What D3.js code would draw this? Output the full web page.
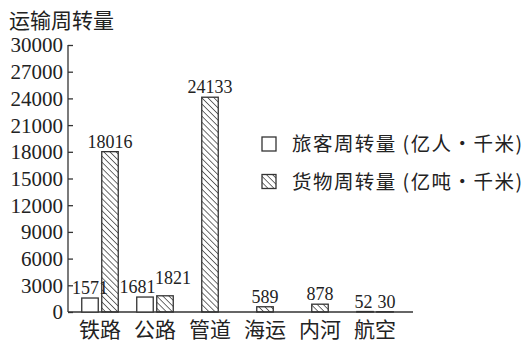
<!DOCTYPE html>
<html><head><meta charset="utf-8">
<script src="https://cdn.jsdelivr.net/npm/d3@7"></script>
<style>
html,body{margin:0;padding:0;background:#fff;}
svg{display:block;}
</style></head>
<body>
<svg id="c" width="526" height="342"></svg>
<script>
const categories = ["铁路","公路","管道","海运","内河","航空"];
const passenger = [1571, 1681, null, null, null, 52];
const freight = [18016, 1821, 24133, 589, 878, 30];
const yTicks = [0,3000,6000,9000,12000,15000,18000,21000,24000,27000,30000];
const title = "运输周转量";
const legendLabels = ["旅客周转量 (亿人·千米)", "货物周转量 (亿吨·千米)"];

const SERIF = '"Liberation Serif","DejaVu Serif",serif';
const CJK = '"Noto Sans CJK SC",sans-serif';
const INK = "#222";

const svg = d3.select("#c");
const x0 = 68, x1 = 413, yBase = 312, yTop = 45;
const y = d3.scaleLinear().domain([0,30000]).range([yBase, yTop]);
const xb = d3.scaleBand().domain(categories).range([72.5, 402.5]).paddingInner(0).paddingOuter(0);

const defs = svg.append("defs");
const pat = defs.append("pattern").attr("id","hatch").attr("patternUnits","userSpaceOnUse")
  .attr("width",4.3).attr("height",4.3).attr("patternTransform","rotate(-45)");
pat.append("line").attr("x1",0).attr("y1",-1).attr("x2",0).attr("y2",5.3)
  .attr("stroke",INK).attr("stroke-width",1.3);

// title
svg.append("text").style("font-family",CJK).attr("fill",INK).attr("x",9).attr("y",28).attr("font-size",21).text(title);

// y axis
const yAxis = d3.axisRight(y).tickValues(yTicks).tickSize(5).tickFormat(d3.format("d"));
const gy = svg.append("g").attr("transform",`translate(${x0},0)`).call(yAxis);
gy.attr("font-family",null).attr("font-size",null);
gy.select(".domain").remove();
gy.selectAll(".tick line").attr("stroke","#333").attr("stroke-width",1.3);
gy.selectAll(".tick text").style("font-family",SERIF).attr("x",-5).attr("text-anchor","end")
  .style("font-size","21px").attr("dy","0.33em").attr("fill",INK);
svg.append("line").attr("x1",x0).attr("x2",x0).attr("y1",yTop).attr("y2",yBase).attr("stroke","#333").attr("stroke-width",1.3);
// baseline
svg.append("line").attr("x1",x0).attr("x2",x1).attr("y1",yBase).attr("y2",yBase).attr("stroke","#333").attr("stroke-width",1.3);

// bars
const bw = 16.5, gap = 3.5;
const bars = [];
categories.forEach((c,i)=>{
  const cx = xb(c) + xb.bandwidth()/2;
  const both = passenger[i] != null && freight[i] != null;
  if (passenger[i] != null) bars.push({c, v:passenger[i], x: both ? cx - gap/2 - bw : cx - bw/2, type:"p"});
  if (freight[i] != null) bars.push({c, v:freight[i], x: both ? cx + gap/2 : cx - bw/2, type:"f"});
});
svg.selectAll("rect.bar").data(bars).join("rect").attr("class","bar")
  .attr("x",d=>d.x).attr("width",bw)
  .attr("y",d=>y(d.v)).attr("height",d=>yBase - y(d.v))
  .attr("fill",d=>d.type==="f"?"url(#hatch)":"#fff")
  .attr("stroke","#333").attr("stroke-width",1.3);
// label nudges to avoid collisions of close labels (layout only)
function nudge(d){
  if (d.c==="公路") return d.type==="p" ? [-7.5,0] : [8,-8];
  if (d.c==="航空") return d.type==="p" ? [-1.5,0] : [1.5,0];
  return [0,0];
}
svg.selectAll("text.val").data(bars).join("text").attr("class","val")
  .style("font-family",SERIF).attr("fill",INK)
  .attr("x",d=>d.x + bw/2 + nudge(d)[0]).attr("y",d=>y(d.v)-4 + nudge(d)[1]).attr("text-anchor","middle")
  .attr("font-size",18).text(d=>d.v);

// x labels
svg.selectAll("text.cat").data(categories).join("text").attr("class","cat")
  .style("font-family",CJK).attr("fill",INK)
  .attr("x",d=>xb(d)+xb.bandwidth()/2).attr("y",337).attr("text-anchor","middle")
  .attr("font-size",21).text(d=>d);

// legend
const lg = svg.append("g");
[0,1].forEach(i=>{
  const yy = 144 + i*37.5;
  lg.append("rect").attr("x",262).attr("y",yy-7).attr("width",14).attr("height",14)
    .attr("fill", i===0?"#fff":"url(#hatch)").attr("stroke","#333").attr("stroke-width",1.3);
  lg.append("text").style("font-family",CJK).attr("fill",INK).attr("x",292).attr("y",yy+7).attr("font-size",19.5)
    .attr("textLength",230).attr("lengthAdjust","spacing").text(legendLabels[i]);
});
</script>
</body></html>
